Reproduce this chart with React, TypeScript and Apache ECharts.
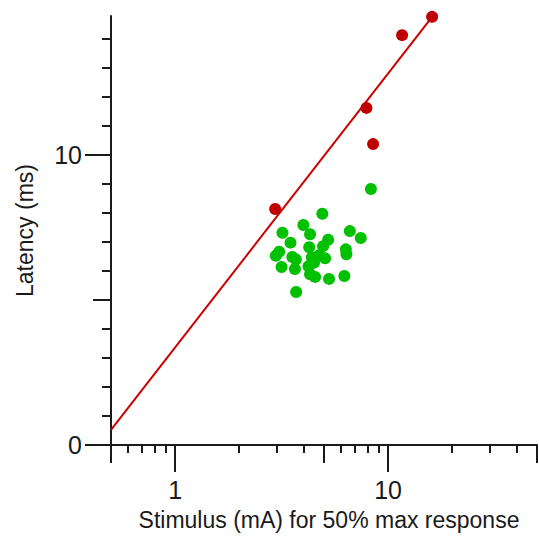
import React, { useEffect, useRef } from 'react';
import * as echarts from 'echarts';

// Red points (Stimulus mA, Latency ms)
const redX = [2.95, 7.91, 8.5, 11.63, 16.09];
const redY = [8.14, 11.63, 10.38, 14.14, 14.77];

// Green points
const greenX = [8.3, 4.91, 3.19, 4.0, 4.3, 3.48, 6.61, 7.44, 5.23, 4.95, 4.26, 6.33, 6.37, 3.08, 2.97, 3.55, 3.69, 4.38, 4.74, 5.06, 4.49, 3.16, 3.65, 4.23, 4.3, 4.54, 5.28, 6.23, 3.7];
const greenY = [8.83, 7.98, 7.32, 7.59, 7.27, 6.98, 7.38, 7.14, 7.08, 6.86, 6.82, 6.75, 6.58, 6.67, 6.53, 6.49, 6.4, 6.47, 6.55, 6.44, 6.29, 6.14, 6.07, 6.17, 5.89, 5.8, 5.73, 5.83, 5.28];

// Fitted line endpoints
const fitX = [0.5, 16.09];
const fitY = [0.52, 14.77];

// Axis ranges and ticks
const xMin = 0.5;
const xMax = 50;
const yMin = 0;
const yMax = 14.8;
const xLabelTicks = [1, 10];
const xMediumTicks = [0.5, 5, 50];
const xMinorTicks = [0.6, 0.7, 0.8, 0.9, 2, 3, 4, 6, 7, 8, 9, 20, 30, 40];
const yLabelTicks = [0, 10];
const yMediumTicks = [5];
const yMinorTicks = [1, 2, 3, 4, 6, 7, 8, 9, 11, 12, 13, 14];

const xName = 'Stimulus (mA) for 50% max response';
const yName = 'Latency (ms)';

const FONT = '"Liberation Sans", Arial, sans-serif';
const INK = '#1a1a1a';

export default function App() {
  const ref = useRef<HTMLDivElement>(null);
  useEffect(() => {
    if (!ref.current) return;
    const chart = echarts.init(ref.current, undefined, { renderer: 'svg' });
    const lmin = Math.log10(xMin);
    const lmax = Math.log10(xMax);
    const tickX = (vals: number[], len: number, extra: any = {}) => ({
      type: 'value',
      position: 'bottom',
      offset: 0,
      min: lmin,
      max: lmax,
      axisLine: { show: false, onZero: false },
      splitLine: { show: false },
      axisTick: {
        show: true,
        length: len,
        customValues: vals.map((v) => Math.log10(v)),
        lineStyle: { color: INK, width: 2 },
      },
      axisLabel: { show: false },
      ...extra,
    });
    const tickY = (vals: number[], len: number, extra: any = {}) => ({
      type: 'value',
      position: 'left',
      offset: 0,
      min: yMin,
      max: yMax,
      axisLine: { show: false, onZero: false },
      splitLine: { show: false },
      axisTick: {
        show: true,
        length: len,
        customValues: vals,
        lineStyle: { color: INK, width: 2 },
      },
      axisLabel: { show: false },
      ...extra,
    });
    chart.setOption({
      animation: false,
      backgroundColor: '#ffffff',
      grid: { left: 111, right: 2, top: 16, bottom: 92, containLabel: false },
      xAxis: [
        {
          type: 'log',
          logBase: 10,
          position: 'bottom',
          min: xMin,
          max: xMax,
          axisLine: { show: true, onZero: false, lineStyle: { color: INK, width: 2 } },
          axisTick: { show: false },
          axisLabel: { show: false },
          splitLine: { show: false },
          minorTick: { show: false },
        },
        tickX(xMinorTicks, 8),
        tickX(xMediumTicks, 18),
        tickX(xLabelTicks, 27, {
          name: xName,
          nameLocation: 'middle',
          nameGap: 63,
          nameTextStyle: { fontSize: 23, color: INK, fontFamily: FONT, padding: [0, 0, 0, 10] },
          axisLabel: {
            show: true,
            customValues: xLabelTicks.map((v) => Math.log10(v)),
            margin: 32,
            fontSize: 25,
            color: INK,
            fontFamily: FONT,
            formatter: (v: number) => String(Math.round(Math.pow(10, v))),
          },
        }),
      ],
      yAxis: [
        {
          type: 'value',
          position: 'left',
          min: yMin,
          max: yMax,
          axisLine: { show: true, onZero: false, lineStyle: { color: INK, width: 2 } },
          axisTick: { show: false },
          axisLabel: { show: false },
          splitLine: { show: false },
        },
        tickY(yMinorTicks, 9),
        tickY(yMediumTicks, 18),
        tickY(yLabelTicks, 26, {
          name: yName,
          nameLocation: 'middle',
          nameGap: 75,
          nameRotate: 90,
          nameTextStyle: { fontSize: 23, color: INK, fontFamily: FONT },
          axisLabel: {
            show: true,
            customValues: yLabelTicks,
            margin: 29,
            fontSize: 25,
            color: INK,
            fontFamily: FONT,
            formatter: (v: number) => String(v),
          },
        }),
      ],
      series: [
        {
          type: 'line',
          xAxisIndex: 0,
          yAxisIndex: 0,
          data: fitX.map((x, i) => [x, fitY[i]]),
          symbol: 'none',
          lineStyle: { color: '#cc0000', width: 2 },
          z: 2,
        },
        {
          type: 'scatter',
          xAxisIndex: 0,
          yAxisIndex: 0,
          data: greenX.map((x, i) => [x, greenY[i]]),
          symbolSize: 12,
          itemStyle: { color: '#00c000', opacity: 1 },
          z: 3,
        },
        {
          type: 'scatter',
          xAxisIndex: 0,
          yAxisIndex: 0,
          data: redX.map((x, i) => [x, redY[i]]),
          symbolSize: 12,
          itemStyle: { color: '#c00000', opacity: 1 },
          z: 4,
        },
      ],
    });
    return () => chart.dispose();
  }, []);
  return (
    <div
      ref={ref}
      style={{ position: 'absolute', left: 0, top: 0, width: 539, height: 537, background: '#fff' }}
    />
  );
}
